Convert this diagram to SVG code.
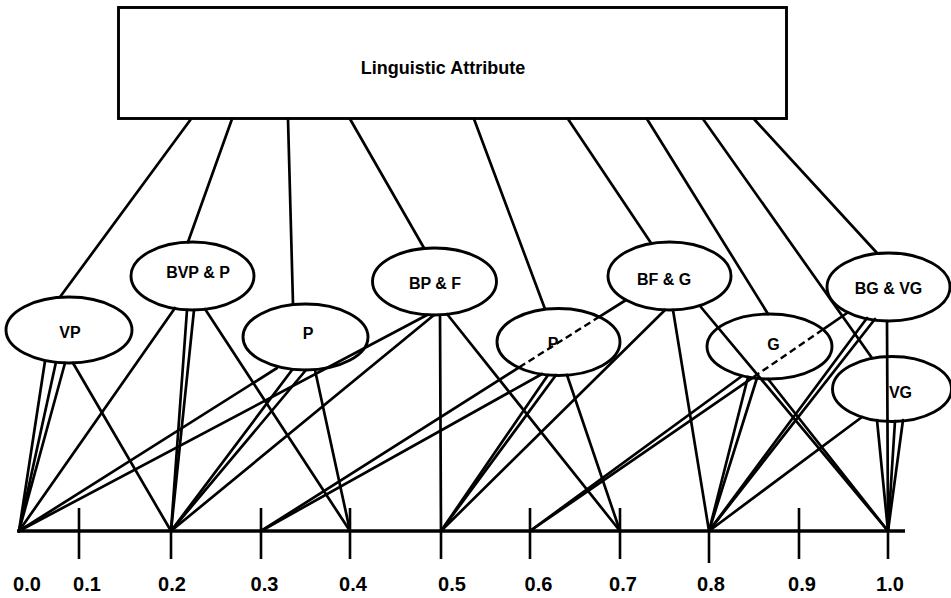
<svg xmlns="http://www.w3.org/2000/svg" width="951" height="598" viewBox="0 0 951 598">
  <style>
    .edge { fill: none; stroke: #000; stroke-width: 2.7; stroke-linecap: round; }
    .dash { fill: none; stroke: #000; stroke-width: 2.4; stroke-dasharray: 7 4; }
    .node { fill: none; stroke: #000; stroke-width: 2.9; }
    .lbl { font-family: "Liberation Sans", Arial, sans-serif; font-weight: bold; font-size: 16px; text-anchor: middle; fill: #000; }
    .title { font-family: "Liberation Sans", Arial, sans-serif; font-weight: bold; font-size: 18px; text-anchor: middle; fill: #000; }
    .num { font-family: "Liberation Sans", Arial, sans-serif; font-weight: bold; font-size: 20px; text-anchor: middle; fill: #000; }
    .axis { fill: none; stroke: #000; stroke-width: 3.4; }
    .tick { fill: none; stroke: #000; stroke-width: 2.6; }
  </style>

  <!-- connectors: attribute box to terms, terms to scale points -->
  <g id="connectors">
    <!-- box to each term -->
    <path class="edge" d="M191,119 L60,297"/>
    <path class="edge" d="M232,119 L188,242"/>
    <path class="edge" d="M288,119 L293,304"/>
    <path class="edge" d="M350,119 L424,248"/>
    <path class="edge" d="M474,119 L545,309"/>
    <path class="edge" d="M568,119 L651,243"/>
    <path class="edge" d="M647,119 L768,314"/>
    <path class="edge" d="M703,119 L872,358"/>
    <path class="edge" d="M754,119 L877,253"/>

    <!-- VP -->
    <path class="edge" d="M45,361 L19,531"/>
    <path class="edge" d="M56,362 L19,531"/>
    <path class="edge" d="M65,363 L19,531"/>
    <path class="edge" d="M73,363 L171,531"/>

    <!-- BVP & P -->
    <path class="edge" d="M175,308 L19,531"/>
    <path class="edge" d="M187,310 L171,531"/>
    <path class="edge" d="M194,310 L171,531"/>
    <path class="edge" d="M205,309 L350,531"/>

    <!-- P -->
    <path class="edge" d="M277,368 L19,531"/>
    <path class="edge" d="M292,370 L171,531"/>
    <path class="edge" d="M306,370 L171,531"/>
    <path class="edge" d="M315,370 L350,531"/>

    <!-- BP & F -->
    <path class="edge" d="M427,315 L19,531"/>
    <path class="edge" d="M434,315 L171,531"/>
    <path class="edge" d="M440,315 L441,531"/>
    <path class="edge" d="M447,314 L620,531"/>

    <!-- second P -->
    <path class="edge" d="M542,374 L261,531"/>
    <path class="edge" d="M548,375 L441,531"/>
    <path class="edge" d="M556,375 L441,531"/>
    <path class="edge" d="M567,375 L620,531"/>

    <!-- BF & G (first one crosses the second P ellipse) -->
    <path class="edge" d="M626,300 L599.6,316.6"/>
    <path class="dash" d="M599.6,316.6 L519.2,367.3"/>
    <path class="edge" d="M519.2,367.3 L261,531"/>
    <path class="edge" d="M665,310 L441,531"/>
    <path class="edge" d="M673,310 L709,531"/>
    <path class="edge" d="M700,306 L888,531"/>

    <!-- G -->
    <path class="edge" d="M742,376 L530,531"/>
    <path class="edge" d="M748,377 L709,531"/>
    <path class="edge" d="M757,378 L709,531"/>
    <path class="edge" d="M768,379 L888,531"/>

    <!-- BG & VG (first one crosses the G ellipse) -->
    <path class="edge" d="M847,313 L822.8,329.6"/>
    <path class="dash" d="M822.8,329.6 L752.4,377.8"/>
    <path class="edge" d="M752.4,377.8 L530,531"/>
    <path class="edge" d="M867,318 L709,531"/>
    <path class="edge" d="M875,319 L709,531"/>
    <path class="edge" d="M887,321 L888,531"/>

    <!-- VG -->
    <path class="edge" d="M862,417 L709,531"/>
    <path class="edge" d="M877,420 L888,531"/>
    <path class="edge" d="M895,421 L888,531"/>
    <path class="edge" d="M903,420 L888,531"/>
  </g>

  <!-- attribute box -->
  <g id="node-attribute">
    <rect class="node" x="118.5" y="7.5" width="668" height="111"/>
    <text class="title" x="443" y="74">Linguistic Attribute</text>
  </g>

  <!-- linguistic terms -->
  <g id="node-vp">
    <ellipse class="node" cx="69" cy="330" rx="63" ry="33"/>
    <text class="lbl" x="70" y="338">VP</text>
  </g>
  <g id="node-bvp-p">
    <ellipse class="node" cx="192.5" cy="276" rx="61.5" ry="34"/>
    <text class="lbl" x="198" y="278">BVP &amp; P</text>
  </g>
  <g id="node-p">
    <ellipse class="node" cx="305.5" cy="337" rx="62.5" ry="33"/>
    <text class="lbl" x="308" y="339">P</text>
  </g>
  <g id="node-bp-f">
    <ellipse class="node" cx="434.5" cy="281.5" rx="62" ry="33.5"/>
    <text class="lbl" x="435" y="289">BP &amp; F</text>
  </g>
  <g id="node-p2">
    <ellipse class="node" cx="558.5" cy="342" rx="61.5" ry="33.5"/>
    <text class="lbl" x="553" y="348.5">P</text>
  </g>
  <g id="node-bf-g">
    <ellipse class="node" cx="669.5" cy="276" rx="61.5" ry="34"/>
    <text class="lbl" x="664" y="285">BF &amp; G</text>
  </g>
  <g id="node-g">
    <ellipse class="node" cx="769.5" cy="346.5" rx="62.5" ry="32.5"/>
    <text class="lbl" x="773.5" y="349.5">G</text>
  </g>
  <g id="node-bg-vg">
    <ellipse class="node" cx="888.5" cy="287" rx="61.5" ry="34"/>
    <text class="lbl" x="888.5" y="294">BG &amp; VG</text>
  </g>
  <g id="node-vg">
    <ellipse class="node" cx="892" cy="389" rx="59.5" ry="32.5"/>
    <text class="lbl" x="900.5" y="397.5">VG</text>
  </g>

  <!-- scale from 0.0 to 1.0 -->
  <g id="scale">
    <path class="axis" d="M17,531 H905"/>
    <path class="tick" d="M79,508 V559 M171,531 V559 M261,508 V559 M350,508 V559 M441,531 V559 M530,508 V559 M620,508 V559 M709,531 V563 M799,508 V559 M888,531 V559"/>
    <text class="num" x="27" y="591">0.0</text>
    <text class="num" x="87" y="591">0.1</text>
    <text class="num" x="172" y="591">0.2</text>
    <text class="num" x="264.5" y="591">0.3</text>
    <text class="num" x="353" y="591">0.4</text>
    <text class="num" x="452" y="591">0.5</text>
    <text class="num" x="538.5" y="591">0.6</text>
    <text class="num" x="623" y="591">0.7</text>
    <text class="num" x="711" y="591">0.8</text>
    <text class="num" x="802" y="591">0.9</text>
    <text class="num" x="890" y="591">1.0</text>
  </g>
</svg>
